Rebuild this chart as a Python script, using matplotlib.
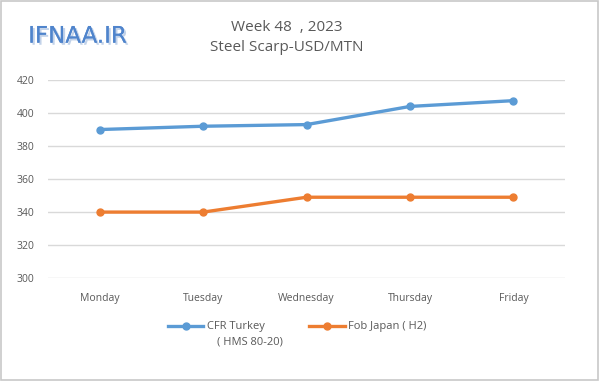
import matplotlib
matplotlib.use("Agg")
import matplotlib.pyplot as plt
import matplotlib.patheffects as pe
from matplotlib.patches import Rectangle

days = ["Monday", "Tuesday", "Wednesday", "Thursday", "Friday"]
cfr_turkey = [390, 392, 393, 404, 407.5]
fob_japan = [340, 340, 349, 349, 349]
yticks = [300, 320, 340, 360, 380, 400, 420]

BLUE = "#5B9BD5"
ORANGE = "#ED7D31"
GRAY = "#595959"

plt.rcParams["font.family"] = ["Open Sans", "DejaVu Sans"]

fig = plt.figure(figsize=(6, 3.81), dpi=100)
ax = fig.add_axes([0.08, 0.27, 0.862, 0.52])

x = range(len(days))
ax.plot(x, cfr_turkey, color=BLUE, lw=2.4, marker="o", ms=5, label="CFR Turkey")
ax.plot(x, fob_japan, color=ORANGE, lw=2.4, marker="o", ms=5, label="Fob Japan ( H2)")

ax.set_xlim(-0.5, len(days) - 0.5)
ax.set_ylim(300, 420)
ax.set_yticks(yticks)
ax.set_xticks(list(x))
ax.set_xticklabels(days)
ax.tick_params(length=0, labelsize=7.5, colors=GRAY)
ax.tick_params(axis="x", pad=11)
ax.tick_params(axis="y", pad=10)
ax.grid(axis="y", color="#D9D9D9", lw=1)
ax.set_axisbelow(True)
for s in ax.spines.values():
    s.set_visible(False)

fig.text(0.478, 0.928, "Week 48  , 2023", ha="center", va="center",
         fontsize=11, color=GRAY)
fig.text(0.478, 0.875, "Steel Scarp-USD/MTN", ha="center", va="center",
         fontsize=11, color=GRAY)

fig.text(0.047, 0.905, "IFNAA.IR", ha="left", va="center", fontsize=16.5,
         color="#4F84CC", family=["Liberation Sans Narrow", "DejaVu Sans"],
         path_effects=[pe.withSimplePatchShadow(offset=(1.5, -1.5),
                                                shadow_rgbFace="#A8C0E0", alpha=0.7),
                       pe.Normal()])

leg = fig.legend(loc="center", bbox_to_anchor=(0.495, 0.142), ncol=2,
                 frameon=False, fontsize=8, labelcolor=GRAY,
                 handlelength=3.2, handletextpad=0.3, columnspacing=4.0)

# second line of the first legend entry, placed under its first line
fig.canvas.draw()
bb = leg.get_texts()[0].get_window_extent().transformed(fig.transFigure.inverted())
fig.text(bb.x0 + 0.017, bb.y0 - 0.012, "( HMS 80-20)", ha="left", va="top",
         fontsize=8, color=GRAY)

fig.patches.append(Rectangle((0.002, 0.003), 0.995, 0.994, transform=fig.transFigure,
                             fill=False, ec="#C8C8C8", lw=1.2))

fig.savefig("out.png", dpi=100)
